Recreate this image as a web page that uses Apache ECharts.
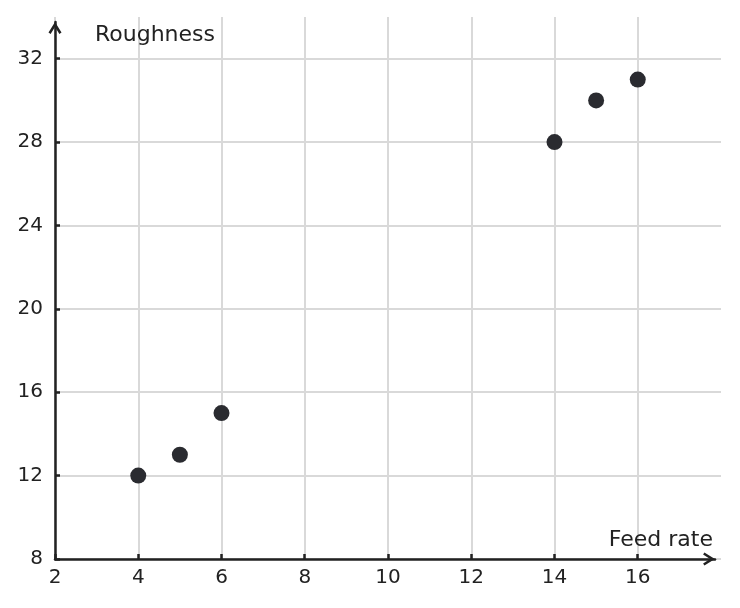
<!DOCTYPE html>
<html>
<head>
<meta charset="utf-8">
<script src="https://cdn.jsdelivr.net/npm/echarts@6/dist/echarts.min.js"></script>
<style>
    html, body { margin: 0; padding: 0; background: #fff; }
    #main { width: 740px; height: 608px; }
</style>
</head>
<body>
<div id="main"></div>
<script>
    // feed rate vs roughness
    var feedRate = [4, 5, 6, 14, 15, 16];
    var roughness = [12, 13, 15, 28, 30, 31];
    var xTicks = [2, 4, 6, 8, 10, 12, 14, 16];
    var yTicks = [8, 12, 16, 20, 24, 28, 32];

    var points = [];
    for (var i = 0; i < feedRate.length; i++) {
        points.push([feedRate[i], roughness[i]]);
    }

    var ink = '#222';
    var font = 'DejaVu Sans';
    // open chevron, tip on top (axis arrow)
    var arrowPath = 'path://M6.5,0 L13,10.5 L10.9,11.8 L6.5,4.8 L2.1,11.8 L0,10.5 Z';

    var myChart = echarts.init(document.getElementById('main'));

    myChart.setOption({
        backgroundColor: '#fff',
        animation: false,
        grid: [{
            // grid lines + data
            left: 55, right: 19, top: 17, bottom: 49
        }, {
            // axis lines with arrows, a bit shorter than the grid lines
            left: 55, right: 25, top: 22, bottom: 49
        }],
        xAxis: [{
            type: 'value',
            gridIndex: 0,
            min: 2,
            max: 18,
            interval: 2,
            name: 'Feed rate',
            nameLocation: 'end',
            nameGap: -8,
            nameTextStyle: {
                color: ink, fontSize: 22, fontFamily: font,
                align: 'right', verticalAlign: 'bottom',
                padding: [0, 0, 8, 0]
            },
            axisLine: { show: false },
            axisTick: { show: false },
            axisLabel: {
                customValues: xTicks,
                color: ink, fontSize: 20, fontFamily: font, margin: 9
            },
            splitLine: {
                show: true,
                showMaxLine: false,
                lineStyle: { color: '#d9d9d9', width: 2 }
            }
        }, {
            type: 'value',
            gridIndex: 1,
            min: 2,
            max: 17.856,
            axisLine: {
                show: true,
                symbol: ['none', arrowPath],
                symbolSize: [13, 12],
                symbolOffset: [0, -6],
                lineStyle: { color: ink, width: 2.5 }
            },
            axisTick: {
                show: true, inside: true, length: 5,
                customValues: xTicks,
                lineStyle: { color: ink, width: 2.5 }
            },
            axisLabel: { show: false },
            splitLine: { show: false }
        }],
        yAxis: [{
            type: 'value',
            gridIndex: 0,
            min: 8,
            max: 34,
            interval: 4,
            name: 'Roughness',
            nameLocation: 'end',
            nameGap: -18,
            nameTextStyle: {
                color: ink, fontSize: 22, fontFamily: font,
                align: 'left', verticalAlign: 'middle',
                padding: [0, 0, 0, 40]
            },
            axisLine: { show: false },
            axisTick: { show: false },
            axisLabel: {
                customValues: yTicks,
                color: ink, fontSize: 20, fontFamily: font, margin: 12
            },
            splitLine: {
                show: true,
                showMaxLine: false,
                lineStyle: { color: '#d9d9d9', width: 2 }
            }
        }, {
            type: 'value',
            gridIndex: 1,
            min: 8,
            max: 33.76,
            axisLine: {
                show: true,
                symbol: ['none', arrowPath],
                symbolSize: [13, 12],
                symbolOffset: [0, -6],
                lineStyle: { color: ink, width: 2.5 }
            },
            axisTick: {
                show: true, inside: true, length: 5,
                customValues: yTicks,
                lineStyle: { color: ink, width: 2.5 }
            },
            axisLabel: { show: false },
            splitLine: { show: false }
        }],
        series: [{
            type: 'scatter',
            xAxisIndex: 0,
            yAxisIndex: 0,
            data: points,
            symbolSize: 16,
            itemStyle: { color: '#2a2b30', opacity: 1 }
        }]
    });
</script>
</body>
</html>
